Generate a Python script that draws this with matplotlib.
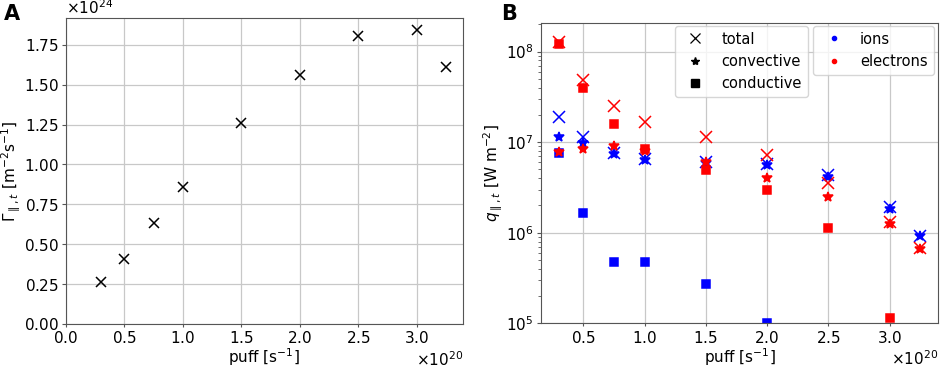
import numpy as np
import matplotlib
matplotlib.use('Agg')
import matplotlib.pyplot as plt
from matplotlib.lines import Line2D
from matplotlib.ticker import ScalarFormatter

# gas puff rate [1e20 s^-1]
puff = np.array([0.3, 0.5, 0.75, 1.0, 1.5, 2.0, 2.5, 3.0, 3.25]) * 1e20

# panel A: parallel particle flux [1e24 m^-2 s^-1]
gamma_par = np.array([0.26, 0.41, 0.63, 0.86, 1.262, 1.562, 1.807, 1.843, 1.612]) * 1e24

# panel B: parallel heat flux [W m^-2]
q_ion_total = [1.92e7, 1.14e7, 7.6e6, 6.5e6, 6.1e6, 5.77e6, 4.3e6, 1.9e6, 9.3e5]
q_ion_conv = [1.15e7, 9.8e6, 7.4e6, 6.3e6, 5.9e6, 5.6e6, 4.1e6, 1.85e6, 9.1e5]
q_ion_cond = [7.6e6, 1.67e6, 4.8e5, 4.8e5, 2.75e5, 1.02e5, np.nan, np.nan, np.nan]

q_el_total = [1.28e8, 4.9e7, 2.5e7, 1.68e7, 1.14e7, 7.2e6, 3.55e6, 1.31e6, 6.8e5]
q_el_conv = [7.7e6, 8.3e6, 9.0e6, 8.0e6, 6.0e6, 4.05e6, 2.45e6, 1.24e6, 6.6e5]
q_el_cond = [1.2e8, 3.95e7, 1.58e7, 8.3e6, 4.95e6, 2.95e6, 1.12e6, 1.15e5, np.nan]

plt.rcParams.update({
    'font.size': 11,
    'axes.edgecolor': '#555555',
    'xtick.major.size': 2,
    'ytick.major.size': 3,
    'xtick.major.pad': 2.5,
    'ytick.major.pad': 2,
    'xtick.color': '#555555',
    'ytick.color': '#555555',
    'xtick.labelcolor': 'black',
    'ytick.labelcolor': 'black',
    'axes.labelpad': 1,
})

fig = plt.figure(figsize=(9.41, 3.68), dpi=100)
axA = fig.add_axes([0.070, 0.120, 0.422, 0.831])
axB = fig.add_axes([0.5746, 0.1215, 0.4225, 0.815])

# ---- panel A ----
axA.plot(puff, gamma_par, 'x', color='k', ms=7, mew=1.1)
axA.set_xlim(0, 3.3975e20)
axA.set_ylim(0, 1.919e24)
axA.set_xlabel(r'puff [s$^{-1}$]', labelpad=0.5)
axA.set_ylabel(r'$\Gamma_{\parallel,t}$ [m$^{-2}$s$^{-1}$]', labelpad=1)
axA.grid(True, color='#c8c8c8', lw=0.9)
axA.set_axisbelow(True)
for axis in (axA.xaxis, axA.yaxis):
    axis.set_major_formatter(ScalarFormatter(useMathText=True))

# ---- panel B ----
series = [
    (q_ion_total, 'x', 9, 'blue'),
    (q_ion_conv, '*', 7, 'blue'),
    (q_ion_cond, 's', 6, 'blue'),
    (q_el_total, 'x', 9, 'red'),
    (q_el_conv, '*', 7, 'red'),
    (q_el_cond, 's', 6, 'red'),
]
for vals, m, ms, c in series:
    axB.plot(puff, vals, m, color=c, ms=ms, mew=1.1, linestyle='none')

axB.set_yscale('log')
axB.set_xlim(0.1525e20, 3.3975e20)
axB.set_ylim(1e5, 2.05e8)
axB.xaxis.set_major_formatter(ScalarFormatter(useMathText=True))
axB.set_xlabel(r'puff [s$^{-1}$]', labelpad=0.5)
axB.set_ylabel(r'$q_{\parallel,t}$ [W m$^{-2}$]', labelpad=1)
axB.grid(True, which='major', color='#c8c8c8', lw=0.9)
axB.set_axisbelow(True)

kind_handles = [
    Line2D([], [], marker='x', color='k', ls='none', ms=7, mew=0.9),
    Line2D([], [], marker='*', color='k', ls='none', ms=6),
    Line2D([], [], marker='s', color='k', ls='none', ms=6),
]
leg1 = axB.legend(kind_handles, ['total', 'convective', 'conductive'],
                  loc='upper left', bbox_to_anchor=(0.338, 0.992),
                  borderaxespad=0, fontsize=10.5)
axB.add_artist(leg1)
species_handles = [
    Line2D([], [], marker='o', color='blue', ls='none', ms=3),
    Line2D([], [], marker='o', color='red', ls='none', ms=3),
]
axB.legend(species_handles, ['ions', 'electrons'],
           loc='upper left', bbox_to_anchor=(0.686, 0.992),
           borderaxespad=0, fontsize=10.5)

fig.text(0.004, 0.988, 'A', fontsize=15, fontweight='bold', va='top')
fig.text(0.533, 0.988, 'B', fontsize=15, fontweight='bold', va='top')

fig.savefig('out.png', dpi=100)
